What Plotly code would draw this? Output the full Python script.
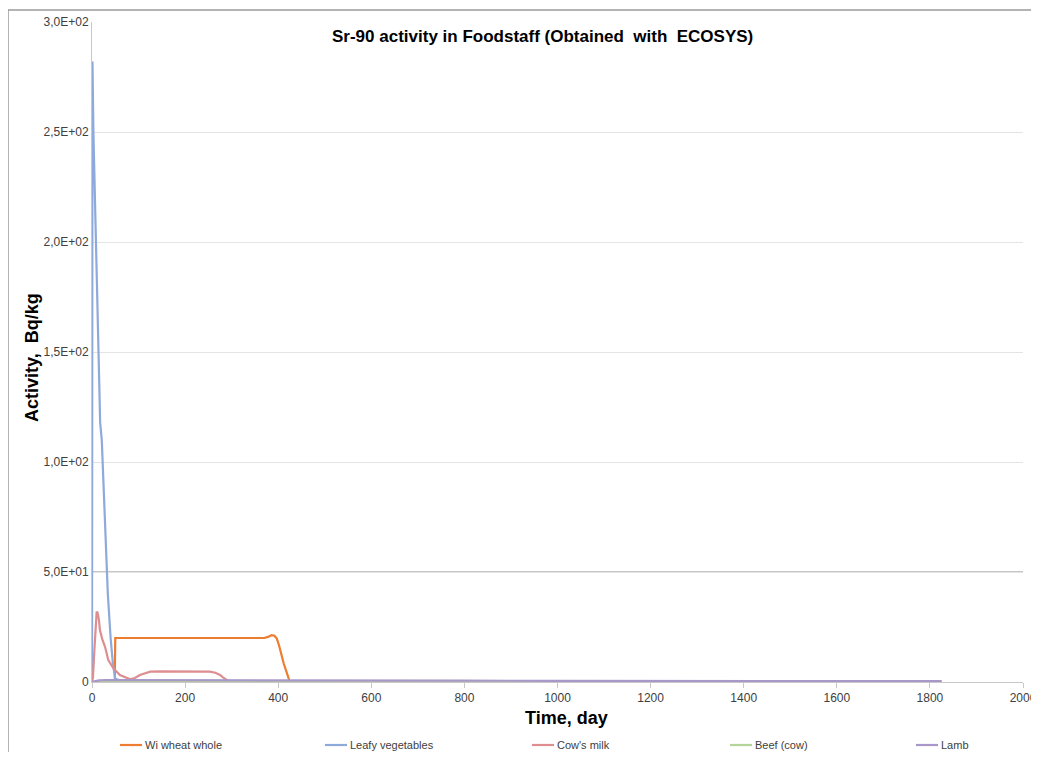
import plotly.graph_objects as go

# ---------------- data ----------------
wheat_days = [0, 20, 49, 49.4, 50, 100, 200, 300, 370, 378, 386, 392, 397, 402, 407, 412, 418, 425, 600, 1000, 1400, 1825]
wheat_vals = [0, 0, 0, 10, 20, 20, 20, 20, 20, 20.5, 21.3, 21, 19.7, 16.5, 12.2, 8.3, 4.5, 0, 0, 0, 0, 0]

leafy_days = [0, 1, 3, 6.5, 10, 15, 17, 17.5, 21, 26, 30, 34, 40, 45, 50, 60, 100, 200, 400, 800, 1200, 1600, 1825]
leafy_vals = [0, 282, 250, 220, 190, 150, 130, 118, 110, 83, 60, 40, 20, 8, 1.5, 0.8, 0.6, 0.5, 0.4, 0.3, 0.25, 0.2, 0.2]

milk_days = [0, 2, 5, 8, 10, 12, 15, 17, 22, 28, 35, 46, 60, 82, 92, 103, 125, 150, 189, 230, 253, 265, 275, 282, 289, 295, 300, 400, 1000, 1825]
milk_vals = [0, 2, 14, 27, 32, 31.5, 28, 23.6, 19.5, 16, 10, 6.2, 3.2, 1.2, 1.8, 3.2, 4.7, 4.8, 4.7, 4.7, 4.7, 4.2, 3.2, 2.0, 0.9, 0.3, 0, 0, 0, 0]

beef_days = [0, 10, 30, 100, 400, 1000, 1825]
beef_vals = [0, 0.2, 0.4, 0.4, 0.3, 0.25, 0.2]

lamb_days = [0, 5, 15, 30, 60, 100, 200, 400, 600, 800, 1000, 1200, 1400, 1600, 1825]
lamb_vals = [0, 0.3, 0.7, 0.9, 0.9, 0.85, 0.8, 0.7, 0.65, 0.6, 0.55, 0.5, 0.45, 0.4, 0.38]

series_names = ["Wi wheat whole", "Leafy vegetables", "Cow's milk", "Beef (cow)", "Lamb"]
series_colors = ["#ED7D31", "#8EA9DB", "#DE8E90", "#B5D497", "#A898C9"]

y_ticks = [0, 50, 100, 150, 200, 250, 300]
y_ticktext = ["0", "5,0E+01", "1,0E+02", "1,5E+02", "2,0E+02", "2,5E+02", "3,0E+02"]

title_text = "Sr-90 activity in Foodstaff (Obtained\u00a0 with\u00a0 ECOSYS)"

# ---------------- geometry (page has an 8px body margin) ----------------
OFF = 8
W, H = 1039 - OFF, 760 - 2 * OFF
PL, PR, PT, PB = 92 - OFF, 1023 - OFF, 22 - OFF, 682 - OFF   # plot area in figure px
PW, PH = PR - PL, PB - PT


def px(sx):
    return (sx - OFF - PL) / PW


def py(sy):
    return (PB - (sy - OFF)) / PH


FONT = "Liberation Sans Narrow, Liberation Sans, Arial, sans-serif"
BOLD = "Liberation Sans, Arial, sans-serif"

fig = go.Figure()
data = [(wheat_days, wheat_vals), (leafy_days, leafy_vals), (milk_days, milk_vals),
        (beef_days, beef_vals), (lamb_days, lamb_vals)]
for (xs, ys), name, col in zip(data, series_names, series_colors):
    fig.add_trace(go.Scatter(x=xs, y=ys, mode="lines", name=name,
                             line=dict(color=col, width=2.2), showlegend=False))

annotations = [
    dict(text="<b>" + title_text + "</b>", xref="paper", yref="paper",
         x=px(542), y=py(36), xanchor="center", yanchor="middle",
         showarrow=False, font=dict(family=BOLD, size=17, color="#000000")),
    dict(text="<b>Time, day</b>", xref="paper", yref="paper",
         x=px(566), y=py(718), xanchor="center", yanchor="middle",
         showarrow=False, font=dict(family=BOLD, size=18, color="#000000")),
    dict(text="<b>Activity,\u00a0 Bq/kg</b>", xref="paper", yref="paper",
         x=px(32), y=py(357), xanchor="center", yanchor="middle",
         textangle=-90, showarrow=False,
         font=dict(family=BOLD, size=18, color="#000000")),
]
shapes = [
    dict(type="line", xref="paper", yref="y", x0=0, x1=1, y0=50, y1=50,
         line=dict(color="#8c8c8c", width=1), layer="below"),
    dict(type="rect", xref="paper", yref="paper",
         x0=px(8), x1=1.2, y0=-0.5, y1=py(10),
         line=dict(color="#9a9a9a", width=1.5), layer="below"),
]

# legend row (drawn with the series names and colours)
legend_text_x = [143, 348, 555, 753, 939]
LEG_Y = 745
for name, col, tx in zip(series_names, series_colors, legend_text_x):
    shapes.append(dict(type="line", xref="paper", yref="paper",
                       x0=px(tx - 23), x1=px(tx - 1), y0=py(LEG_Y), y1=py(LEG_Y),
                       line=dict(color=col, width=2.2)))
    annotations.append(dict(text=name, xref="paper", yref="paper",
                            x=px(tx), y=py(LEG_Y), xanchor="left", yanchor="middle",
                            showarrow=False,
                            font=dict(family=FONT, size=11, color="#404040")))

fig.update_layout(
    width=W, height=H,
    margin=dict(l=PL, r=W - PR, t=PT, b=H - PB, autoexpand=False),
    paper_bgcolor="white", plot_bgcolor="white",
    font=dict(family=FONT, size=12, color="#404040"),
    showlegend=False,
    xaxis=dict(range=[0, 2000], dtick=200, tick0=0, showgrid=False,
               showline=True, linecolor="#c8c8c8", linewidth=1,
               ticks="outside", ticklen=5, tickcolor="#c8c8c8",
               ticklabeloverflow="allow", automargin=False,
               zeroline=False, tickfont=dict(size=12, color="#404040")),
    yaxis=dict(range=[0, 300], tickvals=y_ticks, ticktext=y_ticktext,
               showgrid=True, gridcolor="#e4e4e4", gridwidth=1,
               showline=True, linecolor="#c8c8c8", linewidth=1,
               ticks="", zeroline=False, automargin=False,
               tickfont=dict(size=12, color="#404040")),
    annotations=annotations,
    shapes=shapes,
)

fig.write_html("out.html")
